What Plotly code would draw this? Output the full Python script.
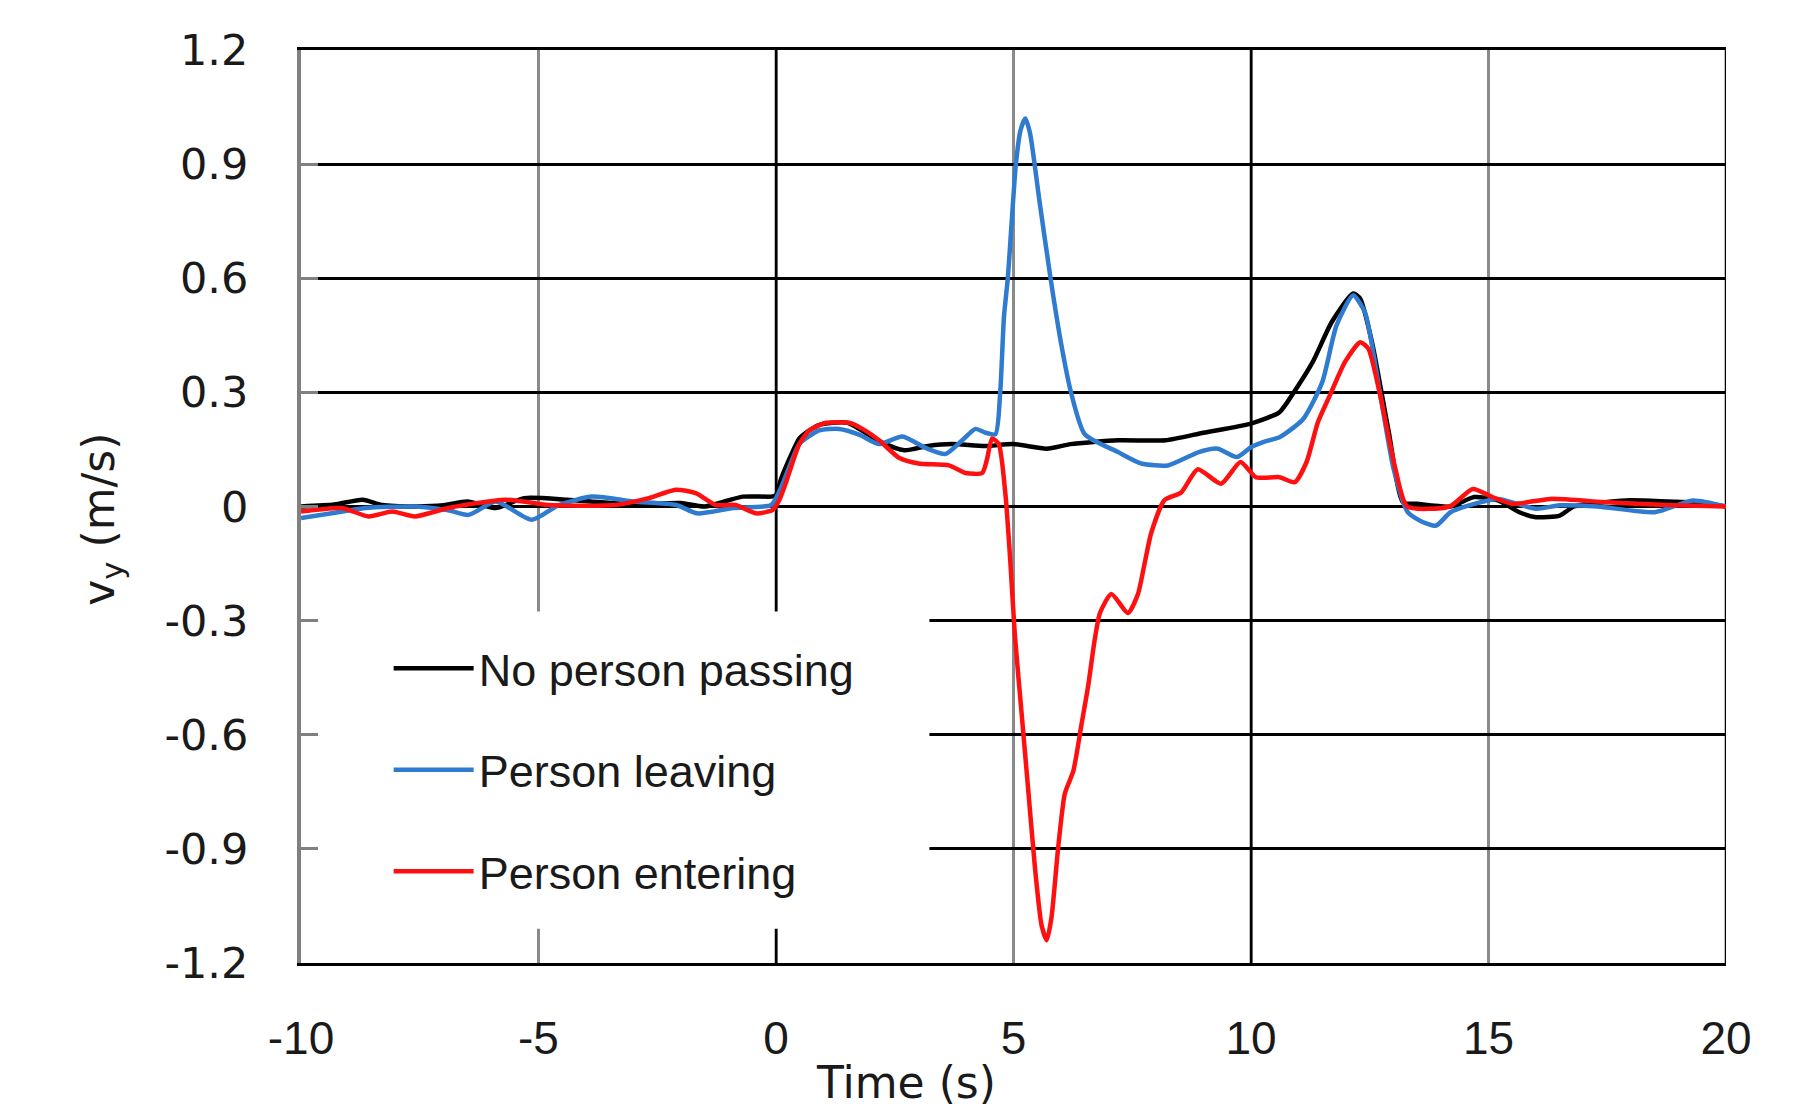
import plotly.graph_objects as go

# ---------------- data ----------------
t_none = [-10, -9.3, -8.7, -8.3, -7.6, -7.0, -6.5, -5.9, -5.3, -4.4, -3.4, -2.5, -2.0, -1.5, -0.7, -0.1,
          0.0, 0.1, 0.3, 0.5, 0.9, 1.5, 2.2, 2.7, 3.2, 3.7, 4.4, 5.0, 5.7, 6.2, 7.2, 8.2, 9.0, 10.0,
          10.6, 10.9, 11.3, 11.7, 12.15, 12.3, 12.55, 12.9, 13.2, 13.5, 14.2, 14.7, 15.2, 15.65, 16.0,
          16.5, 16.8, 17.9, 18.8, 19.5, 20]
v_none = [0, 0.005, 0.018, 0.004, 0, 0.003, 0.013, -0.004, 0.022, 0.018, 0.009, 0.008, 0.009, 0.0, 0.026, 0.026,
          0.03, 0.07, 0.13, 0.18, 0.214, 0.22, 0.17, 0.148, 0.159, 0.164, 0.159, 0.164, 0.152, 0.164, 0.174, 0.174,
          0.194, 0.218, 0.248, 0.30, 0.38, 0.485, 0.56, 0.546, 0.43, 0.196, 0.011, 0.007, 0, 0.025, 0.016, -0.015,
          -0.028, -0.024, 0, 0.016, 0.013, 0.01, 0]

t_leave = [-10, -9.35, -8.65, -7.6, -6.9, -6.47, -5.9, -5.14, -4.57, -3.87, -3.0, -2.1, -1.66, -0.9, -0.1,
           0.07, 0.3, 0.49, 0.91, 1.33, 1.75, 2.17, 2.66, 3.15, 3.57, 3.92, 4.2, 4.41, 4.62, 4.72, 4.8, 4.88,
           5.05, 5.15, 5.25, 5.35, 5.55, 5.78, 6.0, 6.21, 6.5, 7.2, 7.69, 8.25, 8.9, 9.3, 9.7, 10.0, 10.3,
           10.6, 11.1, 11.5, 11.8, 12.15, 12.4, 12.7, 13.0, 13.3, 13.6, 13.9, 14.2, 14.7, 15.2, 16.0, 16.5,
           17.3, 18.5, 19.3, 20]
v_leave = [-0.03, -0.018, -0.004, 0, -0.01, -0.022, 0.013, -0.035, 0.004, 0.026, 0.013, 0.004, -0.018, -0.004, 0.004,
           0.04, 0.11, 0.164, 0.2, 0.204, 0.189, 0.164, 0.184, 0.154, 0.138, 0.174, 0.204, 0.194, 0.19, 0.3, 0.5, 0.6,
           0.9, 0.99, 1.02, 0.98, 0.8, 0.6, 0.43, 0.30, 0.19, 0.143, 0.113, 0.108, 0.143, 0.152, 0.13, 0.156, 0.171,
           0.182, 0.23, 0.327, 0.476, 0.555, 0.51, 0.31, 0.1, -0.015, -0.04, -0.05, -0.015, 0.007, 0.02, -0.006, 0.003,
           0, -0.015, 0.016, 0]

t_enter = [-10, -9.14, -8.58, -8.08, -7.6, -6.9, -5.7, -4.79, -3.38, -2.68, -2.11, -1.69, -1.27, -0.85, -0.42,
           -0.07, 0.07, 0.21, 0.49, 0.7, 1.05, 1.54, 1.82, 2.17, 2.59, 3.0, 3.64, 3.99, 4.34, 4.44, 4.55, 4.69,
           4.83, 4.93, 5.03, 5.17, 5.31, 5.45, 5.59, 5.7, 5.8, 5.94, 6.08, 6.26, 6.43, 6.57, 6.71, 6.82, 7.06,
           7.41, 7.62, 7.76, 7.9, 8.18, 8.53, 8.88, 9.37, 9.78, 10.1, 10.6, 10.92, 11.17, 11.41, 11.66, 11.98,
           12.3, 12.47, 12.72, 13.04, 13.29, 14.18, 14.67, 15.08, 15.5, 16.3, 17.5, 18.75, 20]
v_enter = [-0.013, -0.004, -0.026, -0.013, -0.026, -0.004, 0.018, 0.004, 0.004, 0.022, 0.044, 0.035, 0.004, 0.004,
           -0.018, -0.009, 0.017, 0.063, 0.164, 0.2, 0.22, 0.22, 0.204, 0.174, 0.128, 0.113, 0.108, 0.088, 0.088,
           0.123, 0.179, 0.164, 0.032, -0.139, -0.34, -0.543, -0.745, -0.947, -1.1, -1.14, -1.08, -0.897, -0.755,
           -0.695, -0.574, -0.473, -0.35, -0.28, -0.23, -0.28, -0.23, -0.15, -0.069, 0.017, 0.037, 0.098, 0.06,
           0.117, 0.077, 0.077, 0.064, 0.117, 0.222, 0.292, 0.38, 0.432, 0.415, 0.292, 0.099, 0, 0, 0.046, 0.025,
           0.007, 0.02, 0.011, 0.004, 0]

series_names = ["No person passing", "Person leaving", "Person entering"]
series_colors = ["#000000", "#2E7BCF", "#FF1010"]

x_tickvals = [-10, -5, 0, 5, 10, 15, 20]
x_ticktext = ["-10", "-5", "0", "5", "10", "15", "20"]
y_tickvals = [-1.2, -0.9, -0.6, -0.3, 0, 0.3, 0.6, 0.9, 1.2]
y_ticktext = ["-1.2", "-0.9", "-0.6", "-0.3", "0", "0.3", "0.6", "0.9", "1.2"]

x_title = "Time (s)"
y_title = "v<sub>y</sub> (m/s)"

# ---------------- figure ----------------
fig = go.Figure()
for name, color, tx, vy in zip(series_names, series_colors,
                               [t_none, t_leave, t_enter], [v_none, v_leave, v_enter]):
    fig.add_trace(go.Scatter(x=tx, y=vy, mode="lines", name=name, legendgroup=name,
                             line=dict(color=color, width=4.5, shape="spline", smoothing=0.6)))

shapes = []
for xv in [0, 10, 20]:
    shapes.append(dict(type="line", xref="x", yref="y", x0=xv, x1=xv, y0=-1.2, y1=1.2,
                       line=dict(color="#000000", width=2.5), layer="between"))
# white legend panel covering the grid
shapes.append(dict(type="rect", xref="x", yref="y", x0=-10, x1=3.23, y0=-1.11, y1=-0.276,
                   fillcolor="#FFFFFF", line=dict(width=0), layer="between"))

fig.update_layout(
    width=1808, height=1112,
    margin=dict(l=293, r=90, t=42, b=157),
    paper_bgcolor="white", plot_bgcolor="white",
    showlegend=True,
    legend=dict(x=0.0615, y=0.362, xanchor="left", yanchor="top",
                bgcolor="rgba(0,0,0,0)", font=dict(family="Liberation Sans, Arial", size=45, color="#1a1a1a"),
                itemwidth=80, tracegroupgap=40, traceorder="grouped"),
    shapes=shapes,
    annotations=[
        dict(text=x_title, xref="paper", yref="paper", x=0.4246, y=-0.131, xanchor="center",
             yanchor="middle", showarrow=False, font=dict(family="DejaVu Sans", size=44, color="#1a1a1a")),
        dict(text=y_title, xref="paper", yref="paper", x=-0.14, y=0.486, xanchor="center",
             yanchor="middle", textangle=-90, showarrow=False,
             font=dict(family="DejaVu Sans", size=44, color="#1a1a1a")),
    ],
)

fig.update_xaxes(range=[-10, 20], tickvals=x_tickvals, ticktext=x_ticktext,
                 showgrid=True, gridcolor="#8a8a8a", gridwidth=3, zeroline=False,
                 showline=True, linecolor="#000000", linewidth=3, mirror=True,
                 ticks="", ticklabelstandoff=33,
                 tickfont=dict(family="Liberation Sans Narrow, Liberation Sans", size=46, color="#1a1a1a"))
fig.update_yaxes(range=[-1.2, 1.2], tickvals=y_tickvals, ticktext=y_ticktext,
                 showgrid=True, gridcolor="#000000", gridwidth=2.5, zeroline=False,
                 showline=True, linecolor="#808080", linewidth=4,
                 ticks="inside", ticklen=17, tickwidth=3, tickcolor="#808080", ticklabelstandoff=40,
                 tickfont=dict(family="DejaVu Sans", size=43, color="#1a1a1a"))

fig.write_html("out.html")
